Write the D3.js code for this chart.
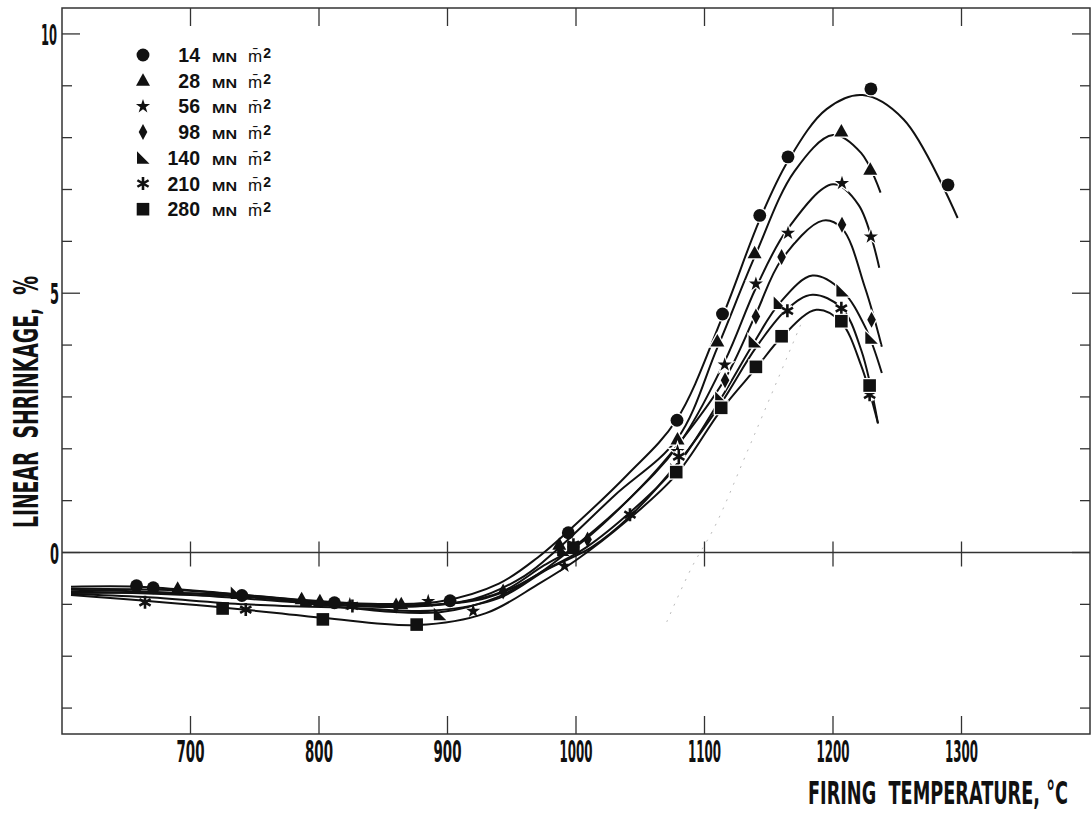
<!DOCTYPE html>
<html>
<head>
<meta charset="utf-8">
<script src="https://cdn.jsdelivr.net/npm/d3@7/dist/d3.min.js"></script>
<style>
  body { margin: 0; background: #fff; }
  svg { display: block; }
  .tick-label { font-family: 'Liberation Sans Narrow', 'DejaVu Sans Condensed', sans-serif; font-weight: bold; fill: #111; }
  .legend-text { font-family: 'Liberation Sans', Arial, sans-serif; fill: #111; }
</style>
</head>
<body>
<svg id="chart" width="1091" height="815"></svg>
<script>
// pressures shown in legend (MN m^-2)
const pressures = [14, 28, 56, 98, 140, 210, 280];

// measured points, [temperature C, shrinkage %]
const marks14 = [[658,-0.64],[671,-0.68],[740,-0.83],[812,-0.97],[902,-0.93],[994,0.38],[1078.6,2.55],[1114,4.6],[1143,6.5],[1165,7.63],[1229.5,8.94],[1289.5,7.09]];
const marks28 = [[690,-0.7],[786.5,-0.9],[800.7,-0.94],[864,-1.0],[987,0.15],[1079,2.18],[1110,4.07],[1139,5.77],[1206.5,8.12],[1229,7.38]];
const marks56 = [[824,-1.0],[885,-0.94],[920,-1.13],[991,-0.26],[1079,1.95],[1115.7,3.62],[1140,5.18],[1165,6.16],[1207,7.12],[1229.5,6.09]];
const marks98 = [[860,-1.02],[943.3,-0.75],[1009,0.25],[1116,3.32],[1140,4.55],[1160,5.7],[1207,6.32],[1230,4.49]];
const marks140 = [[736,-0.78],[790,-0.92],[894,-1.19],[990,0.05],[1078,1.6],[1113,2.98],[1139,4.07],[1158.5,4.81],[1207.3,5.05],[1229.8,4.14]];
const marks210 = [[664.6,-0.96],[743,-1.1],[826,-1.03],[998,0.15],[1042,0.73],[1080,1.85],[1164.5,4.66],[1206.5,4.71],[1228.5,3.04]];
const marks280 = [[725,-1.08],[803,-1.29],[876,-1.39],[998,0.09],[1078,1.55],[1113,2.79],[1140,3.58],[1160,4.17],[1206.5,4.46],[1228.5,3.22]];

// hand-fitted curves
const curve14 = [[607,-0.66],[660,-0.66],[720,-0.77],[780,-0.9],[840,-0.99],[895,-0.94],[940,-0.6],[970,-0.1],[1000,0.55],[1040,1.5],[1078,2.55],[1114,4.55],[1143,6.42],[1165,7.55],[1195,8.55],[1223,8.82],[1255,8.35],[1297,6.45]];
const curve28 = [[607,-0.7],[690,-0.73],[750,-0.84],[800,-0.95],[864,-1.02],[920,-0.9],[960,-0.45],[985,0.05],[1030,1.1],[1079,2.2],[1110,3.95],[1139,5.7],[1170,7.35],[1200,8.05],[1222,7.7],[1237,6.94]];
const curve56 = [[607,-0.72],[700,-0.79],[780,-0.93],[824,-1.02],[885,-1.02],[930,-0.88],[965,-0.5],[993,0.0],[1040,1.0],[1079,2.05],[1116,3.7],[1140,5.1],[1165,6.25],[1200,7.1],[1220,6.7],[1236,5.49]];
const curve98 = [[607,-0.75],[700,-0.82],[800,-0.99],[860,-1.05],[910,-0.96],[943,-0.75],[975,-0.25],[1002,0.15],[1050,1.25],[1080,2.1],[1116,3.35],[1140,4.6],[1160,5.65],[1192,6.4],[1207,6.25],[1225,5.1],[1238,3.97]];
const curve140 = [[607,-0.78],[736,-0.82],[800,-1.01],[894,-1.15],[940,-0.85],[975,-0.35],[1008,0.1],[1050,0.95],[1078,1.65],[1113,2.98],[1139,4.07],[1158.5,4.81],[1184,5.34],[1207,5.05],[1225,4.35],[1238,3.46]];
const curve210 = [[607,-0.8],[664,-0.86],[743,-1.0],[826,-1.07],[890,-1.12],[940,-0.88],[978,-0.32],[1012,0.1],[1042,0.7],[1080,1.75],[1113,2.88],[1140,3.95],[1164.5,4.7],[1184,4.97],[1206.5,4.72],[1222,3.9],[1235,2.49]];
const curve280 = [[607,-0.82],[725,-1.06],[803,-1.26],[876,-1.4],[930,-1.17],[970,-0.62],[1000,-0.15],[1040,0.62],[1078,1.5],[1113,2.75],[1140,3.55],[1160,4.15],[1187,4.68],[1206,4.45],[1222,3.6],[1235,2.49]];

// faint dotted trace visible in the scan
const faintTrace = [[1070.6,-1.34],[1090,-0.29],[1108,0.5],[1133,1.93],[1176.5,4.49]];

const xTicks = [700, 800, 900, 1000, 1100, 1200, 1300];
const yMajor = [0, 5, 10];
const yMinor = [-3, -2, -1, 1, 2, 3, 4, 6, 7, 8, 9];

const allMarks = [marks14, marks28, marks56, marks98, marks140, marks210, marks280];
const allCurves = [curve14, curve28, curve56, curve98, curve140, curve210, curve280];
const shapes = ["circle", "triangle", "star", "diamond", "rtriangle", "asterisk", "square"];

const svg = d3.select("#chart");
const plotL = 62, plotR = 1090, plotT = 8, plotB = 734;

const x = d3.scaleLinear().domain([600, 1400]).range([plotL, plotR]);
const y = d3.scaleLinear().domain([-3.5, 10.5]).range([plotB, plotT]);

function shapePath(name){
  switch(name){
    case "circle": return d3.symbol(d3.symbolCircle, 130)();
    case "triangle": return "M0,-7.5L7,5L-7,5Z";
    case "star": return d3.symbol(d3.symbolStar, 62)();
    case "diamond": return "M0,-8L4.3,0L0,8L-4.3,0Z";
    case "rtriangle": return "M-6,-6.5L-6,6L6.5,6Z";
    case "asterisk": return "M0,-6.5L0,6.5M-5.6,-3.25L5.6,3.25M-5.6,3.25L5.6,-3.25";
    case "square": return "M-6.3,-6.3H6.3V6.3H-6.3Z";
  }
}

function drawShape(g, name, px, py, halo){
  if(name === "asterisk"){
    if(halo){
      g.append("path")
        .attr("d", shapePath(name))
        .attr("transform", `translate(${px},${py})`)
        .attr("fill", "none").attr("stroke", "#fff").attr("stroke-width", 6);
    }
    g.append("path")
      .attr("d", shapePath(name))
      .attr("transform", `translate(${px},${py})`)
      .attr("fill", "none").attr("stroke", "#111").attr("stroke-width", 2.6);
  } else {
    const p = g.append("path")
      .attr("d", shapePath(name))
      .attr("transform", `translate(${px},${py})`)
      .attr("fill", "#111");
    if(halo) p.attr("stroke", "#fff").attr("stroke-width", 2.5).attr("paint-order", "stroke");
  }
}

// frame
svg.append("rect")
  .attr("x", plotL).attr("y", plotT)
  .attr("width", plotR - plotL).attr("height", plotB - plotT)
  .attr("fill", "none").attr("stroke", "#333").attr("stroke-width", 1.5);

// zero line
svg.append("line")
  .attr("x1", plotL).attr("x2", plotR)
  .attr("y1", y(0)).attr("y2", y(0))
  .attr("stroke", "#333").attr("stroke-width", 1.3);

// x ticks: top, bottom and across zero line
const axisG = svg.append("g").attr("stroke", "#333").attr("stroke-width", 1.3);
xTicks.forEach(t => {
  axisG.append("line").attr("x1", x(t)).attr("x2", x(t)).attr("y1", plotT).attr("y2", plotT + 18);
  axisG.append("line").attr("x1", x(t)).attr("x2", x(t)).attr("y1", plotB).attr("y2", plotB - 18);
  axisG.append("line").attr("x1", x(t)).attr("x2", x(t)).attr("y1", y(0) - 11).attr("y2", y(0) + 14);
});
// y ticks both sides
yMajor.concat(yMinor).forEach(v => {
  const len = yMajor.includes(v) ? 18 : 10;
  axisG.append("line").attr("x1", plotL).attr("x2", plotL + len).attr("y1", y(v)).attr("y2", y(v));
  axisG.append("line").attr("x1", plotR).attr("x2", plotR - len).attr("y1", y(v)).attr("y2", y(v));
});

// tick labels
svg.selectAll(".xlab").data(xTicks).join("text")
  .attr("class", "tick-label xlab")
  .attr("x", d => x(d)).attr("y", 762)
  .attr("text-anchor", "middle")
  .attr("font-size", 31)
  .attr("textLength", d => String(d).length > 3 ? 33 : 28)
  .attr("lengthAdjust", "spacingAndGlyphs")
  .text(d => d);

svg.selectAll(".ylab").data(yMajor).join("text")
  .attr("class", "tick-label ylab")
  .attr("x", d => d === 10 ? 41 : 50).attr("y", d => y(d) + 11)
  .attr("font-size", 29)
  .attr("textLength", d => d === 10 ? 16 : 9)
  .attr("lengthAdjust", "spacingAndGlyphs")
  .text(d => d);

// axis titles
svg.append("text")
  .attr("class", "tick-label")
  .attr("x", 1068).attr("y", 804)
  .attr("text-anchor", "end")
  .attr("font-size", 32)
  .attr("textLength", 260)
  .attr("lengthAdjust", "spacingAndGlyphs")
  .style("white-space", "pre")
  .text("FIRING  TEMPERATURE, \u00B0C");

svg.append("text")
  .attr("class", "tick-label")
  .attr("transform", "translate(38,402) rotate(-90)")
  .attr("text-anchor", "middle")
  .attr("font-size", 34)
  .attr("textLength", 252)
  .attr("lengthAdjust", "spacingAndGlyphs")
  .style("white-space", "pre")
  .text("LINEAR  SHRINKAGE,  %");

// faint trace
svg.append("path")
  .datum(faintTrace)
  .attr("d", d3.line().x(d => x(d[0])).y(d => y(d[1])).curve(d3.curveCatmullRom))
  .attr("fill", "none").attr("stroke", "#bbb").attr("stroke-width", 1)
  .attr("stroke-dasharray", "2,7");

// curves
const line = d3.line().x(d => x(d[0])).y(d => y(d[1])).curve(d3.curveCatmullRom.alpha(0.5));
const curveG = svg.append("g");
allCurves.forEach(c => {
  curveG.append("path").datum(c)
    .attr("d", line)
    .attr("fill", "none").attr("stroke", "#111").attr("stroke-width", 2);
});

// markers
const markG = svg.append("g");
allMarks.forEach((m, i) => {
  m.forEach(d => drawShape(markG, shapes[i], x(d[0]), y(d[1]), d[1] > 1));
});

// legend
const legG = svg.append("g");
pressures.forEach((p, i) => {
  const ry = 55 + i * 25.7;
  drawShape(legG, shapes[i], 143, ry, false);
  legG.append("text").attr("class", "legend-text")
    .attr("x", 200).attr("y", ry + 7).attr("text-anchor", "end")
    .attr("font-size", 19.5).attr("font-weight", "bold")
    .text(p);
  legG.append("text").attr("class", "legend-text")
    .attr("x", 212).attr("y", ry + 7)
    .attr("font-family", "'DejaVu Sans', sans-serif")
    .attr("font-size", 13).attr("font-weight", "bold")
    .attr("textLength", 25).attr("lengthAdjust", "spacingAndGlyphs")
    .text("MN");
  const t = legG.append("text").attr("class", "legend-text")
    .attr("x", 248).attr("y", ry + 7)
    .attr("font-size", 17);
  t.append("tspan").text("m\u0304");
  t.append("tspan").attr("dy", -4).attr("dx", 1).attr("font-size", 14).attr("font-weight", "bold").text("2");
});
</script>
</body>
</html>
